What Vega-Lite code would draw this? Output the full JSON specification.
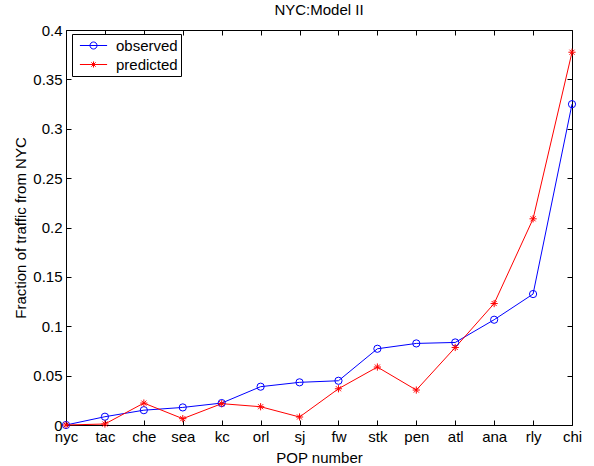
{
  "$schema": "https://vega.github.io/schema/vega-lite/v6.json",
  "width": 506,
  "height": 395,
  "autosize": {"type": "none"},
  "padding": {"left": 66, "top": 30, "right": 22, "bottom": 41},
  "background": "white",
  "title": {"text": "NYC:Model II", "font": "Liberation Sans", "fontSize": 15, "fontWeight": "normal", "color": "black", "anchor": "middle", "baseline": "alphabetic", "offset": -7},
  "config": {
    "view": {"stroke": "black", "strokeWidth": 1},
    "font": "Liberation Sans",
    "axis": {
      "grid": false,
      "labelFont": "Liberation Sans",
      "labelFontSize": 15,
      "labelColor": "black",
      "titleFont": "Liberation Sans",
      "titleFontSize": 15,
      "titleFontWeight": "normal",
      "titleColor": "black",
      "ticks": true,
      "tickColor": "black",
      "tickWidth": 1,
      "tickSize": 5,
      "offset": -5,
      "domain": false,
      "labelPadding": 4
    }
  },
  "data": {
    "values": [
      {"pop": "nyc", "series": "observed", "value": 0},
      {"pop": "tac", "series": "observed", "value": 0.0084},
      {"pop": "che", "series": "observed", "value": 0.015},
      {"pop": "sea", "series": "observed", "value": 0.0178},
      {"pop": "kc", "series": "observed", "value": 0.0222},
      {"pop": "orl", "series": "observed", "value": 0.0388},
      {"pop": "sj", "series": "observed", "value": 0.0432},
      {"pop": "fw", "series": "observed", "value": 0.0448},
      {"pop": "stk", "series": "observed", "value": 0.0772},
      {"pop": "pen", "series": "observed", "value": 0.0826},
      {"pop": "atl", "series": "observed", "value": 0.0836},
      {"pop": "ana", "series": "observed", "value": 0.1066},
      {"pop": "rly", "series": "observed", "value": 0.1326},
      {"pop": "chi", "series": "observed", "value": 0.3249},
      {"pop": "nyc", "series": "predicted", "value": 0},
      {"pop": "tac", "series": "predicted", "value": 0.001},
      {"pop": "che", "series": "predicted", "value": 0.0222},
      {"pop": "sea", "series": "predicted", "value": 0.0064},
      {"pop": "kc", "series": "predicted", "value": 0.0216},
      {"pop": "orl", "series": "predicted", "value": 0.0185},
      {"pop": "sj", "series": "predicted", "value": 0.0081},
      {"pop": "fw", "series": "predicted", "value": 0.0367},
      {"pop": "stk", "series": "predicted", "value": 0.0587},
      {"pop": "pen", "series": "predicted", "value": 0.0354},
      {"pop": "atl", "series": "predicted", "value": 0.0785},
      {"pop": "ana", "series": "predicted", "value": 0.123},
      {"pop": "rly", "series": "predicted", "value": 0.2088},
      {"pop": "chi", "series": "predicted", "value": 0.3775}
    ]
  },
  "layer": [
    {
      "mark": {"type": "line", "strokeWidth": 1},
      "encoding": {
        "x": {
          "field": "pop", "type": "nominal", "sort": null,
          "scale": {"type": "point", "padding": 0, "domain": ["nyc","tac","che","sea","kc","orl","sj","fw","stk","pen","atl","ana","rly","chi"]},
          "axis": {"title": "POP number", "labelAngle": 0, "titleBaseline": "alphabetic", "titleY": 42}
        },
        "y": {
          "field": "value", "type": "quantitative",
          "scale": {"domain": [0, 0.4], "nice": false, "zero": true},
          "axis": {"title": "Fraction of traffic from NYC", "values": [0,0.05,0.1,0.15,0.2,0.25,0.3,0.35,0.4], "format": "~g", "titleBaseline": "alphabetic", "titleX": -46, "titleY": 197.5}
        },
        "color": {"field": "series", "type": "nominal", "scale": {"domain": ["observed","predicted"], "range": ["#0000ff","#ff0000"]}, "legend": null}
      }
    },
    {
      "mark": {"type": "point", "filled": false, "strokeWidth": 1, "opacity": 1},
      "encoding": {
        "x": {
          "field": "pop", "type": "nominal", "sort": null,
          "axis": {"orient": "top", "labels": false, "title": null}
        },
        "y": {
          "field": "value", "type": "quantitative",
          "axis": {"orient": "right", "labels": false, "title": null, "values": [0,0.05,0.1,0.15,0.2,0.25,0.3,0.35,0.4]}
        },
        "color": {"field": "series", "type": "nominal", "scale": {"domain": ["observed","predicted"], "range": ["#0000ff","#ff0000"]}, "legend": null},
        "shape": {"field": "series", "type": "nominal", "scale": {"domain": ["observed","predicted"], "range": ["circle", "M-1,0H1M0,-1V1M-0.7,-0.7L0.7,0.7M-0.7,0.7L0.7,-0.7"]}, "legend": null},
        "size": {"value": 52}
      }
    },
    {
      "transform": [{"filter": "false"}],
      "mark": {"type": "point", "filled": false, "strokeWidth": 1, "opacity": 1, "size": 256},
      "encoding": {
        "color": {"field": "series", "type": "nominal", "scale": {"domain": ["observed","predicted"], "range": ["#0000ff","#ff0000"]},
          "legend": {"title": null, "orient": "none", "legendX": 6, "legendY": 4, "strokeColor": "black", "fillColor": "white", "padding": 3, "symbolOffset": 10, "labelOffset": 14, "labelFont": "Liberation Sans", "labelFontSize": 15, "labelColor": "black", "rowPadding": 2, "symbolStrokeWidth": 1, "symbolSize": 256, "labelExpr": "datum.label + '\u2002'"}},
        "shape": {"field": "series", "type": "nominal", "scale": {"domain": ["observed","predicted"], "range": ["M-1.7,0H1.7M0.44,0A0.44,0.44,0,1,1,-0.44,0A0.44,0.44,0,1,1,0.44,0", "M-1.7,0H1.7M0,-0.38V0.38M-0.27,-0.27L0.27,0.27M-0.27,0.27L0.27,-0.27"]},
          "legend": {"title": null, "orient": "none", "legendX": 6, "legendY": 4, "strokeColor": "black", "fillColor": "white", "padding": 3, "symbolOffset": 10, "labelOffset": 14, "labelFont": "Liberation Sans", "labelFontSize": 15, "labelColor": "black", "rowPadding": 2, "symbolStrokeWidth": 1, "symbolSize": 256, "labelExpr": "datum.label + '\u2002'"}}
      }
    }
  ],
  "resolve": {
    "scale": {"color": "independent", "shape": "independent"},
    "axis": {"x": "independent", "y": "independent"},
    "legend": {"color": "independent", "shape": "independent"}
  }
}
